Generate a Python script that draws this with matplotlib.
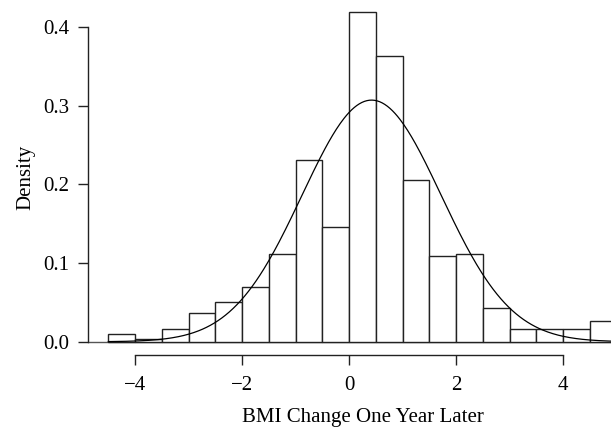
import numpy as np
import matplotlib
matplotlib.use("Agg")
from matplotlib import pyplot as plt

# histogram of BMI change (density scale), bins of width 0.5
bin_edges = [-4.5, -4.0, -3.5, -3.0, -2.5, -2.0, -1.5, -1.0, -0.5, 0.0,
             0.5, 1.0, 1.5, 2.0, 2.5, 3.0, 3.5, 4.0, 4.5, 5.0]
density = [0.010, 0.003, 0.0165, 0.036, 0.050, 0.069, 0.112, 0.231, 0.146,
           0.419, 0.363, 0.205, 0.109, 0.112, 0.043, 0.0165, 0.0165, 0.0165, 0.026]
# fitted normal curve
fit_mean = 0.42
fit_sd = 1.30

x_ticks = [-4, -2, 0, 2, 4]
y_ticks = [0.0, 0.1, 0.2, 0.3, 0.4]

plt.rcParams['font.family'] = ['Liberation Serif', 'DejaVu Serif']

W, H = 611, 428
fig = plt.figure(figsize=(W / 100, H / 100), dpi=100)
# plot region in pixels (R style, runs off the right edge like the original crop)
left_px, right_px, top_px, bot_px = 88, 637, 0, 355
ax = fig.add_axes([left_px / W, 1 - bot_px / H,
                   (right_px - left_px) / W, (bot_px - top_px) / H])

lefts = np.array(bin_edges[:-1])
widths = np.diff(bin_edges)
ax.bar(lefts, density, width=widths, align='edge', facecolor='white',
       edgecolor='#222222', linewidth=1.0, zorder=2)

ax.axhline(0, color='#555555', linewidth=1.0, zorder=1)

xs = np.linspace(-4.5, 5.0, 400)
ys = np.exp(-0.5 * ((xs - fit_mean) / fit_sd) ** 2) / (fit_sd * np.sqrt(2 * np.pi))
ax.plot(xs, ys, color='black', linewidth=0.9, zorder=3)

ax.set_xlim(-4.88, 5.38)
ax.set_ylim(-0.0168, 0.434)

for s in ['top', 'right']:
    ax.spines[s].set_visible(False)
ax.spines['left'].set_bounds(0, 0.4)
ax.spines['bottom'].set_bounds(-4, 4)
for s in ['left', 'bottom']:
    ax.spines[s].set_color('#222222')
    ax.spines[s].set_linewidth(1.0)

ax.set_xticks(x_ticks)
ax.set_xticklabels([('\u2212%d' % -t) if t < 0 else '%d' % t for t in x_ticks])
ax.set_yticks(y_ticks)
ax.set_yticklabels(['%.1f' % t for t in y_ticks])
ax.tick_params(axis='both', direction='out', length=7.2, width=1.0,
               color='#222222', labelsize=15)
ax.tick_params(axis='x', pad=8)
ax.tick_params(axis='y', pad=6)

ax.set_xlabel('BMI Change One Year Later', fontsize=15, labelpad=9)
ax.set_ylabel('Density', fontsize=15, labelpad=6)

fig.savefig('out.png', dpi=100)
